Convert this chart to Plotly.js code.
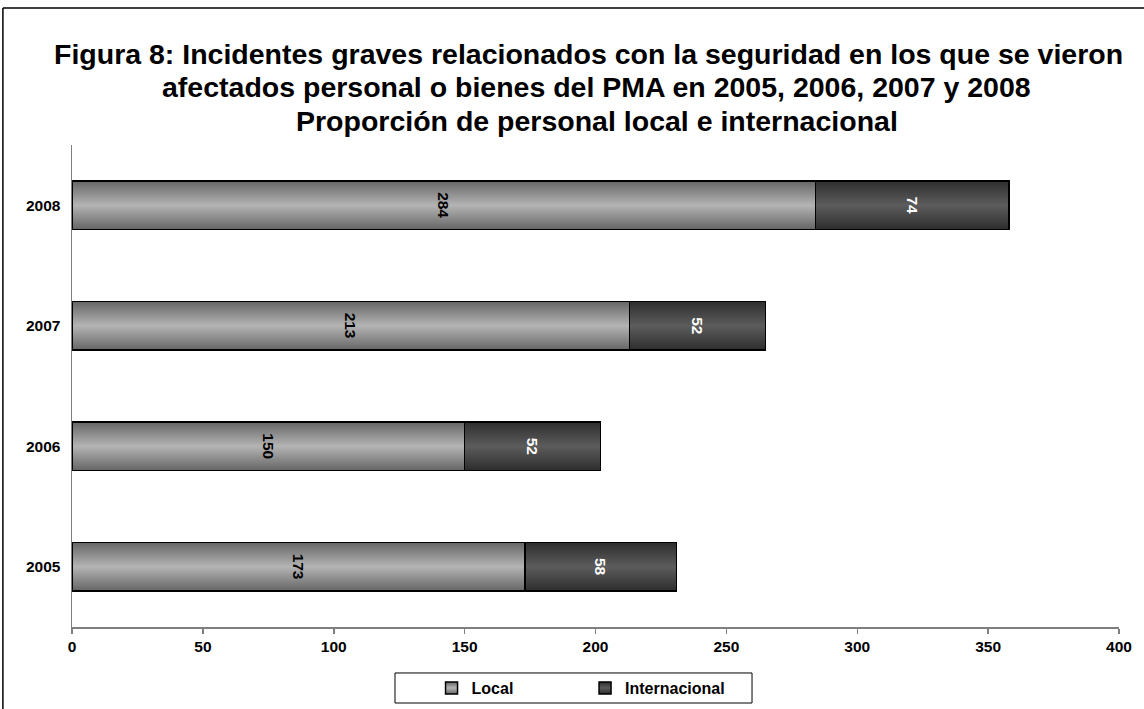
<!DOCTYPE html>
<html>
<head>
<meta charset="utf-8">
<script src="https://cdn.plot.ly/plotly-3.0.1.min.js"></script>
<style>
html,body{margin:0;padding:0;background:#fff;}
#chart{width:1144px;height:709px;}
</style>
</head>
<body>
<div id="chart"></div>
<script>
const years = ['2005', '2006', '2007', '2008'];
const localValues = [173, 150, 213, 284];
const internacionalValues = [58, 52, 52, 74];
const xTicks = [0, 50, 100, 150, 200, 250, 300, 350, 400];
const titleLines = [
  'Figura 8: Incidentes graves relacionados con la seguridad en los que se vieron',
  'afectados personal o bienes del PMA en 2005, 2006, 2007 y 2008',
  'Proporción de personal local e internacional'
];

const FONT = '"Liberation Sans", Arial, sans-serif';

const traces = [
  {
    type: 'bar', orientation: 'h', name: 'Local',
    y: years, x: localValues,
    text: localValues.map(String),
    textposition: 'inside', insidetextanchor: 'middle', textangle: 90,
    constraintext: 'none',
    textfont: {family: FONT, size: 15.5, color: '#000', weight: 'bold'},
    marker: {color: '#a6a6a6', line: {color: '#000', width: 1.5}},
    hoverinfo: 'none'
  },
  {
    type: 'bar', orientation: 'h', name: 'Internacional',
    y: years, x: internacionalValues,
    text: internacionalValues.map(String),
    textposition: 'inside', insidetextanchor: 'middle', textangle: 90,
    constraintext: 'none',
    textfont: {family: FONT, size: 15.5, color: '#fff', weight: 'bold'},
    marker: {color: '#484848', line: {color: '#000', width: 1.5}},
    hoverinfo: 'none'
  }
];

// title lines placed individually (centre x / centre y in paper units)
const titleX = [0.4933, 0.5010, 0.5014];
const titleY = [1.1898, 1.1193, 1.0508];
const annotations = titleLines.map(function (t, i) {
  return {
    text: t, xref: 'paper', yref: 'paper', x: titleX[i], y: titleY[i],
    xanchor: 'center', yanchor: 'middle', showarrow: false,
    font: {family: FONT, size: 28.5, color: '#000', weight: 'bold'}
  };
});

const layout = {
  width: 1144, height: 709,
  margin: {l: 72, r: 25, t: 145, b: 82, autoexpand: false},
  paper_bgcolor: '#fff', plot_bgcolor: '#fff',
  font: {family: FONT, color: '#000', weight: 'bold'},
  barmode: 'stack', bargap: 0.6,
  annotations: annotations,
  xaxis: {
    range: [0, 400], tickvals: xTicks, ticktext: xTicks.map(String),
    showgrid: false, zeroline: false, automargin: false,
    showline: true, linecolor: '#7f7f7f', linewidth: 1.5,
    ticks: 'outside', ticklen: 5, tickcolor: '#7f7f7f', tickwidth: 1.5,
    tickfont: {family: FONT, size: 15.5, color: '#000', weight: 'bold'}
  },
  yaxis: {
    type: 'category', categoryorder: 'array', categoryarray: years,
    showgrid: false, zeroline: false, automargin: false,
    showline: true, linecolor: '#7f7f7f', linewidth: 1.5,
    ticks: '', ticklabelstandoff: 7,
    tickfont: {family: FONT, size: 15.5, color: '#000', weight: 'bold'}
  },
  legend: {
    orientation: 'h', x: 0.3434, xanchor: 'left', y: -0.1266, yanchor: 'middle',
    borderwidth: 0, bgcolor: 'rgba(0,0,0,0)',
    entrywidth: 108.5, entrywidthmode: 'pixels',
    font: {family: FONT, size: 16, color: '#000', weight: 'bold'},
    itemclick: false, itemdoubleclick: false, traceorder: 'normal'
  },
  shapes: [
    // outer chart frame (extends past the right and bottom edges)
    {type: 'line', xref: 'paper', yref: 'paper', x0: -0.066, x1: 1.1, y0: 1.284, y1: 1.284,
     line: {color: '#000', width: 1.5}, layer: 'above'},
    {type: 'line', xref: 'paper', yref: 'paper', x0: -0.066, x1: -0.066, y0: 1.284, y1: -0.3,
     line: {color: '#000', width: 1.5}, layer: 'above'},
    // legend frame
    {type: 'rect', xref: 'paper', yref: 'paper', x0: 0.3085, x1: 0.6495, y0: -0.1577, y1: -0.0954,
     line: {color: '#000', width: 1}, fillcolor: 'rgba(0,0,0,0)', layer: 'below'}
  ],
  showlegend: true
};

Plotly.newPlot('chart', traces, layout, {displayModeBar: false, staticPlot: true}).then(function (gd) {
  // vertical shading on the bars, as in the original
  const svg = gd.querySelector('svg.main-svg');
  const ns = 'http://www.w3.org/2000/svg';
  let defs = svg.querySelector('defs');
  if (!defs) { defs = document.createElementNS(ns, 'defs'); svg.insertBefore(defs, svg.firstChild); }
  function grad(id, edge, mid) {
    const g = document.createElementNS(ns, 'linearGradient');
    g.setAttribute('id', id);
    g.setAttribute('x1', '0'); g.setAttribute('y1', '0');
    g.setAttribute('x2', '0'); g.setAttribute('y2', '1');
    [[0, edge], [0.5, mid], [1, edge]].forEach(function (s) {
      const st = document.createElementNS(ns, 'stop');
      st.setAttribute('offset', s[0]);
      st.setAttribute('stop-color', s[1]);
      g.appendChild(st);
    });
    defs.appendChild(g);
  }
  grad('gradLocal', '#666666', '#b4b4b4');
  grad('gradIntl', '#2e2e2e', '#5c5c5c');
  const ids = ['gradLocal', 'gradIntl'];
  gd.querySelectorAll('.barlayer .trace').forEach(function (tr, i) {
    tr.querySelectorAll('path').forEach(function (p) { p.style.fill = 'url(#' + ids[i] + ')'; });
  });
  gd.querySelectorAll('.legend .traces').forEach(function (tr, i) {
    tr.querySelectorAll('.legendpoints path').forEach(function (p) { p.style.fill = 'url(#' + ids[i] + ')'; });
  });
});
</script>
</body>
</html>
